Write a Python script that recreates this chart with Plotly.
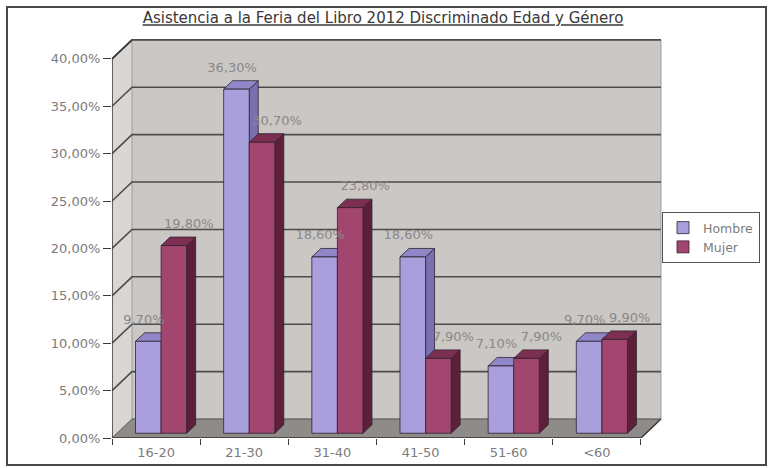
import plotly.graph_objects as go

# ---- data ----
categorias = ["16-20", "21-30", "31-40", "41-50", "51-60", "<60"]
hombre = [9.7, 36.3, 18.6, 18.6, 7.1, 9.7]
mujer = [19.8, 30.7, 23.8, 7.9, 7.9, 9.9]
y_ticks = [0, 5, 10, 15, 20, 25, 30, 35, 40]
y_tick_labels = ["0,00%", "5,00%", "10,00%", "15,00%", "20,00%", "25,00%", "30,00%", "35,00%", "40,00%"]
titulo = "Asistencia a la Feria del Libro 2012 Discriminado Edad y Género"

# ---- geometry (3D look) ----
L, R, T, B = 112, 106, 38, 30
W_FIG, H_FIG = 769, 468
XR = [-0.5, 5.75]
YR = [0, 42.2]
pw = W_FIG - L - R
ph = H_FIG - T - B
pxx = pw / (XR[1] - XR[0])
pxy = ph / (YR[1] - YR[0])
DX = 20 / pxx        # wall depth
DY = 19 / pxy
BX = 5 / pxx         # bar front offset from front plane
BY = 0.5
BW = 0.29            # bar width
BDX = 9 / pxx        # bar depth
BDY = 8.5 / pxy

n = len(categorias)
x0, x1 = -0.5, n - 0.5
ymax = y_ticks[-1]

def path(pts, close=True):
    s = "M " + " L ".join(f"{x:.4f},{y:.4f}" for x, y in pts)
    return s + (" Z" if close else "")

shapes = []
def dshape(pts, fill=None, line="rgba(0,0,0,0)", lw=0, close=True):
    d = dict(type="path", xref="x", yref="y", path=path(pts, close),
             line=dict(color=line, width=lw), layer="below")
    if fill:
        d["fillcolor"] = fill
    shapes.append(d)

# side wall, back wall, floor
dshape([(x0, 0), (x0, ymax), (x0 + DX, ymax + DY), (x0 + DX, DY)], fill="#d9d6d3")
dshape([(x0 + DX, DY), (x1 + DX, DY), (x1 + DX, ymax + DY), (x0 + DX, ymax + DY)],
       fill="#cbc7c4", line="#a09c99", lw=1)
dshape([(x0, 0), (x1, 0), (x1 + DX, DY), (x0 + DX, DY)], fill="#8f8b88", line="#5a5756", lw=1)
# gridlines
for v in y_ticks[1:]:
    dshape([(x0, v), (x0 + DX, v + DY), (x1 + DX, v + DY)], line="#4e4c4b", lw=1.6, close=False)
# front axis lines
dshape([(x0, 0), (x0, ymax), (x0 + DX, ymax + DY)], line="#3c3a3a", lw=1.5, close=False)
dshape([(x0, 0), (x1, 0), (x1 + DX, DY)], line="#3c3a3a", lw=1.5, close=False)

# name, values, bar offset, label offset, front, side, top colours
series = [
    ("Hombre", hombre, -BW / 2, -0.05, "#a99fdc", "#7a70b0", "#9087c8"),
    ("Mujer", mujer, BW / 2, 0.17, "#a3466f", "#5e1f3a", "#7c2f50"),
]
edge = "#2e2230"
for name, vals, off, loff, cf, cs, ct in series:
    for i, v in enumerate(vals):
        xc = i + off + BX
        xl, xr = xc - BW / 2, xc + BW / 2
        top = BY + v
        dshape([(xr, BY), (xr + BDX, BY + BDY), (xr + BDX, top + BDY), (xr, top)],
               fill=cs, line=edge, lw=0.8)
        dshape([(xl, top), (xr, top), (xr + BDX, top + BDY), (xl + BDX, top + BDY)],
               fill=ct, line=edge, lw=0.8)

fig = go.Figure()
for name, vals, off, loff, cf, cs, ct in series:
    fig.add_trace(go.Bar(
        name=name,
        x=[i + off + BX for i in range(n)],
        y=vals,
        base=[BY] * n,
        width=BW,
        marker=dict(color=cf, line=dict(color=edge, width=0.8)),
        hoverinfo="skip",
    ))

for name, vals, off, loff, cf, cs, ct in series:
    fig.add_trace(go.Scatter(
        x=[i + off + BX + loff for i in range(n)],
        y=[v + 2.7 for v in vals],
        mode="text",
        text=[f"{v:.2f}".replace(".", ",") + "%" for v in vals],
        textfont=dict(family="DejaVu Sans", size=13, color="#8a8888"),
        showlegend=False,
        hoverinfo="skip",
        cliponaxis=False,
    ))

# outer frame
def px_to_paper_x(px):
    return (px - L) / pw
def px_to_paper_y(py):
    return (H_FIG - B - py) / ph
shapes.append(dict(type="rect", xref="paper", yref="paper",
                   x0=px_to_paper_x(7), x1=px_to_paper_x(766),
                   y0=px_to_paper_y(465), y1=px_to_paper_y(7),
                   line=dict(color="#4a4848", width=2), layer="above"))

fig.update_layout(
    width=W_FIG, height=H_FIG,
    margin=dict(l=L, r=R, t=T, b=B, autoexpand=False),
    paper_bgcolor="white", plot_bgcolor="white",
    barmode="overlay",
    shapes=shapes,
    font=dict(family="DejaVu Sans", size=13, color="#7d7b7b"),
    title=dict(text=f"<u>{titulo}</u>", x=px_to_paper_x(383), xref="paper", xanchor="center",
               y=1 - 18 / H_FIG, yref="container", yanchor="middle",
               font=dict(family="DejaVu Sans", size=15, color="#3a3838")),
    xaxis=dict(range=XR, tickvals=list(range(n)), ticktext=categorias, ticks="",
               showgrid=False, zeroline=False, showline=False, ticklabelstandoff=5,
               automargin=False,
               tickfont=dict(size=13, color="#7d7b7b"),
               minor=dict(tickmode="linear", tick0=-0.5, dtick=1, ticks="outside",
                          ticklen=6, tickcolor="#3c3a3a", tickwidth=1.3, showgrid=False)),
    yaxis=dict(range=YR, tickvals=y_ticks, ticktext=y_tick_labels, ticks="outside",
               ticklen=8, tickcolor="#3c3a3a", tickwidth=1.3, automargin=False,
               showgrid=False, zeroline=False, showline=False,
               tickfont=dict(size=13, color="#7d7b7b")),
    legend=dict(x=px_to_paper_x(760), y=px_to_paper_y(212), xanchor="right", yanchor="top",
                bordercolor="#555353", borderwidth=1, bgcolor="white", itemwidth=30,
                font=dict(size=12.5, color="#7d7b7b"), tracegroupgap=2),
    showlegend=True,
)

fig.write_html("out.html")
